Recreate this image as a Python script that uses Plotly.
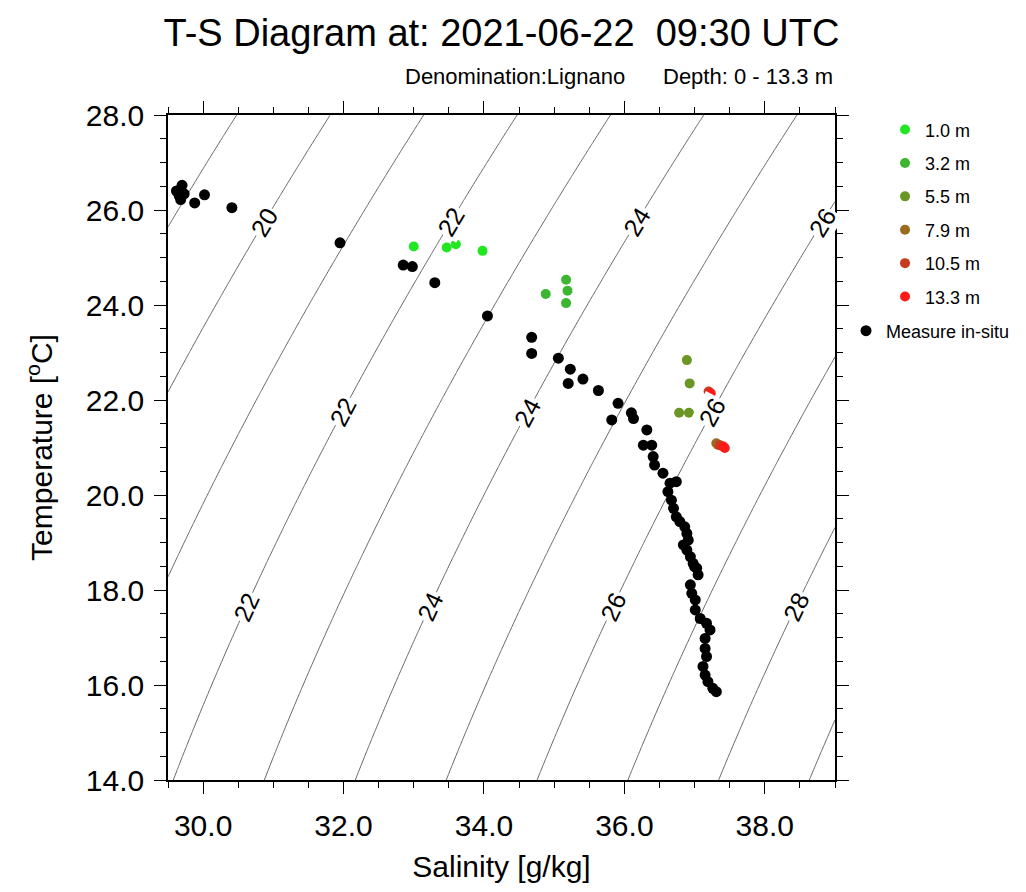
import numpy as np
import plotly.graph_objects as go

# ---------------- data ----------------
insitu_S = [29.62, 29.70, 29.66, 29.68, 29.73, 29.88, 30.02, 30.41, 31.95, 32.85, 32.98, 33.30,
            34.05, 34.68, 34.68, 35.06, 35.23, 35.41, 35.20, 35.63, 35.91, 36.10, 36.13, 35.82,
            36.32, 36.27, 36.39, 36.41, 36.43, 36.55, 36.65, 36.74, 36.62, 36.67, 36.70, 36.74,
            36.79, 36.86, 36.89, 36.91, 36.84, 36.89, 36.94, 36.98, 37.03, 37.00, 37.05, 36.94,
            36.96, 37.01, 37.01, 37.08, 37.17, 37.22, 37.15, 37.15, 37.17, 37.12, 37.15, 37.19,
            37.26, 37.31]
insitu_T = [26.40, 26.52, 26.30, 26.22, 26.34, 26.15, 26.32, 26.05, 25.31, 24.84, 24.81, 24.47,
            23.77, 23.32, 22.98, 22.88, 22.65, 22.44, 22.35, 22.20, 21.93, 21.73, 21.61, 21.58,
            21.37, 21.05, 21.05, 20.81, 20.63, 20.46, 20.25, 20.28, 20.07, 19.89, 19.72, 19.54,
            19.44, 19.33, 19.19, 19.05, 18.95, 18.84, 18.70, 18.56, 18.46, 18.49, 18.32, 18.11,
            17.93, 17.79, 17.58, 17.40, 17.30, 17.16, 16.98, 16.77, 16.60, 16.39, 16.21, 16.07,
            15.93, 15.86]

depth_labels = ["1.0 m", "3.2 m", "5.5 m", "7.9 m", "10.5 m", "13.3 m"]
depth_colors = ["#22e622", "#3cb531", "#6b9626", "#9a6a1e", "#c83a1c", "#ff1a1a"]
model_S = [
    [33.00, 33.47, 33.60, 33.98],
    [34.88, 35.17, 35.19, 35.17],
    [36.89, 36.93, 36.78, 36.92],
    [37.31, 37.33],
    [37.20, 37.36],
    [37.23, 37.41, 37.43],
]
model_T = [
    [25.23, 25.21, 25.28, 25.14],
    [24.23, 24.53, 24.30, 24.04],
    [22.84, 22.35, 21.73, 21.73],
    [21.09, 21.06],
    [22.18, 21.05],
    [22.14, 21.02, 20.99],
]

S_range = [29.5, 39.0]
T_range = [14.0, 28.0]
x_ticks = [30.0, 32.0, 34.0, 36.0, 38.0]
y_ticks = [14.0, 16.0, 18.0, 20.0, 22.0, 24.0, 26.0, 28.0]

# density contour levels and the temperature rows where labels sit
sigma_levels = list(range(17, 32))
label_levels = [18, 20, 22, 24, 26, 28, 30]
label_rows_T = [25.75, 21.75, 17.65]

title_text = "T-S Diagram at: 2021-06-22\u00a0\u00a009:30 UTC"
sub_left = "Denomination:Lignano"
sub_right = "Depth: 0 - 13.3 m"


# ------------- density field (UNESCO EOS-80, p=0) -------------
def sigma_t(S, T):
    rw = (999.842594 + 6.793952e-2 * T - 9.095290e-3 * T**2 + 1.001685e-4 * T**3
          - 1.120083e-6 * T**4 + 6.536332e-9 * T**5)
    A = 8.24493e-1 - 4.0899e-3 * T + 7.6438e-5 * T**2 - 8.2467e-7 * T**3 + 5.3875e-9 * T**4
    B = -5.72466e-3 + 1.0227e-4 * T - 1.6546e-6 * T**2
    C = 4.8314e-4
    return rw + A * S + B * S**1.5 + C * S**2 - 1000.0


def solve_S(level, T, lo, hi):
    flo = sigma_t(lo, T) - level
    fhi = sigma_t(hi, T) - level
    if flo * fhi > 0:
        return None
    for _ in range(60):
        mid = 0.5 * (lo + hi)
        fm = sigma_t(mid, T) - level
        if flo * fm <= 0:
            hi = mid
        else:
            lo, flo = mid, fm
    return 0.5 * (lo + hi)


gS = np.linspace(S_range[0], S_range[1], 191)
gT = np.linspace(T_range[0], T_range[1], 141)
SS, TT = np.meshgrid(gS, gT)
Z = sigma_t(SS, TT)

FONT = "Liberation Sans, Arial, Helvetica, sans-serif"
line_cs = [[0, "#555555"], [1, "#555555"]]

# plot area geometry (figure pixels) -- page body adds an 8px offset
M_L, M_R, M_T, M_B = 160, 199, 107, 120
W, H = 1026, 892
PW, PH = W - M_L - M_R, H - M_T - M_B
px_per_S = PW / (S_range[1] - S_range[0])
px_per_T = PH / (T_range[1] - T_range[0])

fig = go.Figure()
fig.add_trace(go.Contour(
    x=gS, y=gT, z=Z, autocontour=False,
    contours=dict(start=sigma_levels[0], end=sigma_levels[-1], size=1,
                  coloring="lines", showlabels=False),
    colorscale=line_cs, showscale=False, line=dict(width=0.9), hoverinfo="skip",
    showlegend=False))

for i, (lab, col) in enumerate(zip(depth_labels, depth_colors)):
    fig.add_trace(go.Scatter(
        x=model_S[i], y=model_T[i], mode="markers", name=lab,
        marker=dict(color=col, size=10), legendgroup=lab, legend="legend"))

fig.add_trace(go.Scatter(
    x=insitu_S, y=insitu_T, mode="markers", name="Measure in-situ",
    marker=dict(color="black", size=11), legend="legend2"))

# contour labels along the lines
annotations = []
for Tr in label_rows_T:
    for lev in label_levels:
        s = solve_S(lev, Tr, S_range[0], S_range[1])
        if s is None or s < S_range[0] + 0.35 or s > S_range[1] - 0.15:
            continue
        d = 1e-3
        dsdS = (sigma_t(s + d, Tr) - sigma_t(s - d, Tr)) / (2 * d)
        dsdT = (sigma_t(s, Tr + d) - sigma_t(s, Tr - d)) / (2 * d)
        slope_px = (-dsdS / dsdT) * px_per_T / px_per_S
        ang = np.degrees(np.arctan(slope_px))
        annotations.append(dict(
            x=s, y=Tr, xref="x", yref="y", text=str(lev), showarrow=False,
            textangle=-ang, bgcolor="white", borderpad=1,
            font=dict(size=25, family=FONT, color="black")))

annotations += [
    dict(text=sub_left, xref="paper", yref="paper", x=(627 - 168) / 667, y=1 + (115 - 77) / 665,
         xanchor="right", yanchor="middle", showarrow=False,
         font=dict(size=22, family=FONT, color="black")),
    dict(text=sub_right, xref="paper", yref="paper", x=1.0, y=1 + (115 - 77) / 665,
         xanchor="right", yanchor="middle", showarrow=False,
         font=dict(size=22, family=FONT, color="black")),
]

axis_common = dict(
    showline=True, linecolor="black", linewidth=1.5, mirror="allticks",
    ticks="outside", ticklen=12, tickwidth=1.2, tickcolor="black",
    showgrid=False, zeroline=False, tickformat=".1f",
    tickfont=dict(size=30, family=FONT, color="black"),
    minor=dict(ticks="outside", ticklen=6, tickwidth=1, tickcolor="black", dtick=0.5, showgrid=False),
)

fig.update_layout(
    width=W, height=H,
    margin=dict(l=M_L, r=M_R, t=M_T, b=M_B),
    paper_bgcolor="white", plot_bgcolor="white",
    font=dict(family=FONT, color="black"),
    title=dict(text=title_text, x=0.5, xref="paper", xanchor="center",
               y=1 - 25 / H, yref="container", yanchor="middle",
               font=dict(size=38, family=FONT, color="black")),
    xaxis=dict(range=S_range, tickvals=x_ticks, ticklabelstandoff=6,
               title=dict(text="Salinity [g/kg]", font=dict(size=30, family=FONT), standoff=15),
               **axis_common),
    yaxis=dict(range=T_range, tickvals=y_ticks, ticklabelstandoff=4,
               title=dict(text="Temperature [<sup>o</sup>C]", font=dict(size=30, family=FONT), standoff=24),
               **axis_common),
    legend=dict(x=1.075, xanchor="left", y=1.0055, yanchor="top",
                font=dict(size=18, family=FONT), tracegroupgap=7,
                bgcolor="rgba(0,0,0,0)"),
    legend2=dict(x=1.0165, xanchor="left", y=1 - (331 - 115) / 665, yanchor="middle",
                 font=dict(size=18, family=FONT), bgcolor="rgba(0,0,0,0)"),
    annotations=annotations,
)

fig.write_html("out.html")
